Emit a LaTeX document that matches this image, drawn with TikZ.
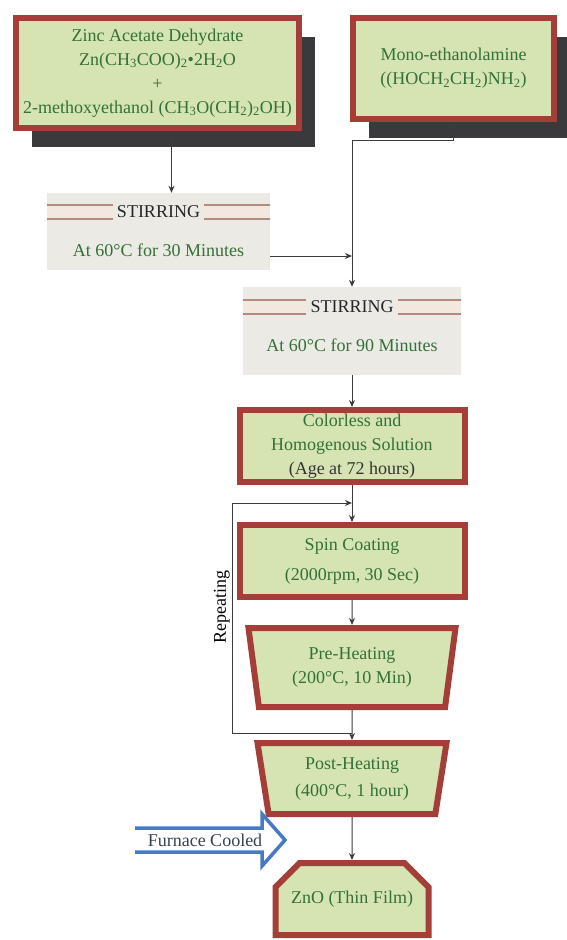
\documentclass[tikz,border=0pt]{standalone}
\usepackage{fontspec}
\setmainfont{Liberation Serif}
\usetikzlibrary{arrows.meta,shapes.geometric,shapes.misc,shadows}

\definecolor{boxred}{RGB}{164,62,56}
\definecolor{boxgreen}{RGB}{213,228,178}
\definecolor{txtgreen}{RGB}{52,112,56}
\definecolor{shadowgray}{RGB}{58,58,60}
\definecolor{stirgray}{RGB}{236,234,229}
\definecolor{stirline}{RGB}{178,138,128}
\definecolor{stirband}{RGB}{243,232,224}
\definecolor{linegray}{RGB}{60,60,60}
\definecolor{coolblue}{RGB}{72,122,196}
\definecolor{cooltext}{RGB}{55,65,80}

\tikzset{
  stepbox/.style={draw=boxred, line width=6pt, fill=boxgreen, text=txtgreen, align=center, inner sep=1pt},
  shadowbox/.style={stepbox, drop shadow={shadow xshift=16pt, shadow yshift=-19pt, fill=shadowgray, opacity=1}},
  trapbox/.style={stepbox, trapezium, shape border rotate=180, trapezium stretches body,
    trapezium left angle=#1, trapezium right angle=#1},
  stirbox/.style={fill=stirgray, inner sep=0pt},
  stirtitle/.style={text=black!85, inner xsep=4pt},
  conn/.style={draw=linegray, line width=1pt, -{Stealth[length=7pt,width=6pt]}},
  wire/.style={draw=linegray, line width=1pt},
}

% bands on both sides of a STIRRING title
\def\stirbands#1#2{%
  \coordinate (#1l) at (#1.west |- #2);
  \coordinate (#1r) at (#1.east |- #2);
  \fill[stirband] ([yshift=7pt]#1l) rectangle ([yshift=-7pt]#2.west);
  \fill[stirband] ([yshift=7pt]#2.east) rectangle ([yshift=-7pt]#1r);
  \draw[stirline, line width=1.5pt] ([yshift=7pt]#1l) -- ([yshift=7pt]#2.west)
    ([yshift=-7pt]#1l) -- ([yshift=-7pt]#2.west)
    ([yshift=7pt]#2.east) -- ([yshift=7pt]#1r)
    ([yshift=-7pt]#2.east) -- ([yshift=-7pt]#1r);
}

\begin{document}
\begin{tikzpicture}[x=1pt, y=-1pt, font=\fontsize{18}{24}\selectfont]
	%%%%% START %%%%%
	\fill[white] (0,0) rectangle (566,940);
	\useasboundingbox (0,0) rectangle (566,940);
	
	% starting chemicals
	\node[shadowbox, minimum width=283pt, minimum height=110pt] (zinc) at (157.5,73)
		{Zinc Acetate Dehydrate\\Zn(CH\textsubscript{3}COO)\textsubscript{2}•2H\textsubscript{2}O\\+\\
		2-methoxyethanol (CH\textsubscript{3}O(CH\textsubscript{2})\textsubscript{2}OH)};
	\node[shadowbox, minimum width=201pt, minimum height=101pt] (mea) at (453.5,68.5)
		{Mono-ethanolamine\\((HOCH\textsubscript{2}CH\textsubscript{2})NH\textsubscript{2})};
	
	% stirring steps
	\node[stirbox, minimum width=223pt, minimum height=77pt] (stirA) at (158.5,231.5) {};
	\node[stirtitle] (stirAt) at (158.5,212) {STIRRING};
	\node[text=txtgreen] (stirAb) at (158.5,250) {At 60°C for 30 Minutes};
	\stirbands{stirA}{stirAt}
	
	\node[stirbox, minimum width=218pt, minimum height=88pt] (stirB) at (352,331) {};
	\node[stirtitle] (stirBt) at (352,307) {STIRRING};
	\node[text=txtgreen] (stirBb) at (352,345) {At 60°C for 90 Minutes};
	\stirbands{stirB}{stirBt}
	
	% film steps
	\node[stepbox, minimum width=225pt, minimum height=72pt] (sol) at (352,446)
		{Colorless and\\Homogenous Solution\\{\color{black!80}(Age at 72 hours)}};
	\node[stepbox, minimum width=225pt, minimum height=72pt] (spin) at (352,561)
		{Spin Coating\\[6pt](2000rpm, 30 Sec)};
	\node[trapbox=76, minimum width=207pt, minimum height=79pt] (pre) at (352,667.5)
		{Pre-Heating\\(200°C, 10 Min)};
	\node[trapbox=76, minimum width=189pt, minimum height=71pt] (post) at (352,778.5)
		{Post-Heating\\[3pt](400°C, 1 hour)};
	\node[stepbox, chamfered rectangle, chamfered rectangle corners={north west,north east},
		chamfered rectangle xsep=13pt, chamfered rectangle ysep=15pt,
		minimum width=153pt, minimum height=72pt] (zno) at (352,899) {ZnO (Thin Film)};
	
	% connectors
	\coordinate (zj) at ([xshift=14pt]zinc.south);
	\draw[conn] (zj) -- (zj |- stirA.north);
	\coordinate (mj) at (352,140);
	\draw[wire] (mea.south) |- (mj);
	\draw[conn] (mj) -- (stirB.north);
	\coordinate (sj) at ([yshift=-24.5pt]stirA.east);
	\draw[conn] (sj) -- (sj -| mj);
	\draw[conn] (stirB.south) -- (sol.north);
	\draw[conn] (sol.south) -- (spin.north);
	\draw[conn] (spin.south) -- (pre.north);
	\draw[conn] (pre.south) -- (post.north);
	\draw[conn] (post.south) -- (zno.north);
	
	% repeating loop
	\coordinate (lp1) at (352,503);
	\coordinate (lp2) at (352,733);
	\coordinate (lpT) at (232,503);
	\coordinate (lpB) at (232,733);
	\draw[conn] (lp2) -- (lpB) -- (lpT) -- (lp1);
	\node[rotate=90, anchor=south, inner sep=1pt] (rep) at (231,607) {Repeating};
	
	% furnace cooled arrow
	\draw[coolblue, line width=3.5pt, line join=miter] (135,828) -- (262,828) -- (262,814)
		-- (285,840) -- (262,866) -- (262,852) -- (135,852);
	\node[text=cooltext] (cool) at (205,840) {Furnace Cooled};
	
	%%%%% END %%%%%
\end{tikzpicture}
\end{document}
